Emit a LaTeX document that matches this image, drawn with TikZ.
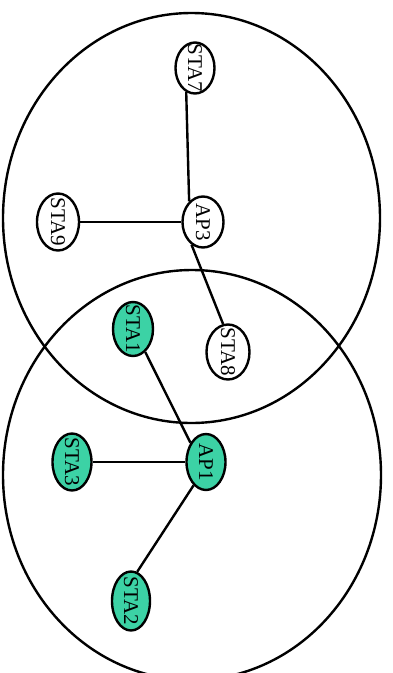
\documentclass[tikz,border=0pt]{standalone}
\usepackage{fontspec}
\setmainfont{Liberation Serif}
\usetikzlibrary{shapes.geometric}
\definecolor{teal1}{RGB}{60,210,165}
\tikzset{
  lbl/.style={rotate=-90,font=\fontsize{21}{21}\selectfont,inner sep=0pt},
  sta/.style={ellipse,draw,line width=2.4pt,inner sep=0pt,minimum width=40pt,minimum height=55pt,
    label={[lbl]center:#1}},
  grn/.style={fill=teal1},
  wht/.style={fill=white},
  cell/.style={draw,line width=2.4pt},
  link/.style={line width=2.4pt}
}
\begin{document}
\begin{tikzpicture}[x=1pt,y=-1pt]
\useasboundingbox (0,0) rectangle (393,673);
\clip (0,0) rectangle (393,673);
\draw[cell] (191.5,218) ellipse [x radius=188.5pt, y radius=205pt];
\draw[cell] (192,475) ellipse [x radius=189pt, y radius=205pt];

\node[sta=STA7,wht,minimum width=39pt,minimum height=51pt] (sta7) at (195,68) {};
\node[sta=STA9,wht,minimum width=42pt,minimum height=57pt] (sta9) at (58,222) {};
\node[sta=AP3,wht,minimum width=41pt,minimum height=51pt] (ap3) at (203,222) {};
\node[sta=STA8,wht,minimum width=43pt,minimum height=55pt] (sta8) at (228,352) {};
\node[sta=STA1,grn,minimum width=40pt,minimum height=54pt] (sta1) at (133,329) {};
\node[sta=STA3,grn,minimum width=39pt,minimum height=57pt] (sta3) at (72,462) {};
\node[sta=AP1,grn,minimum width=39pt,minimum height=56pt] (ap1) at (206,462) {};
\node[sta=STA2,grn,minimum width=38pt,minimum height=59pt] (sta2) at (131,601) {};

\draw[link] (sta7.250) -- (ap3.124);
\draw[link] (sta9.east) -- (ap3.west);
\draw[link] (ap3.243) -- (sta8.100);
\draw[link] (sta1.298) -- (ap1.129);
\draw[link] (sta3.east) -- (ap1.west);
\draw[link] (ap1.242) -- (sta2.78);
\end{tikzpicture}
\end{document}
